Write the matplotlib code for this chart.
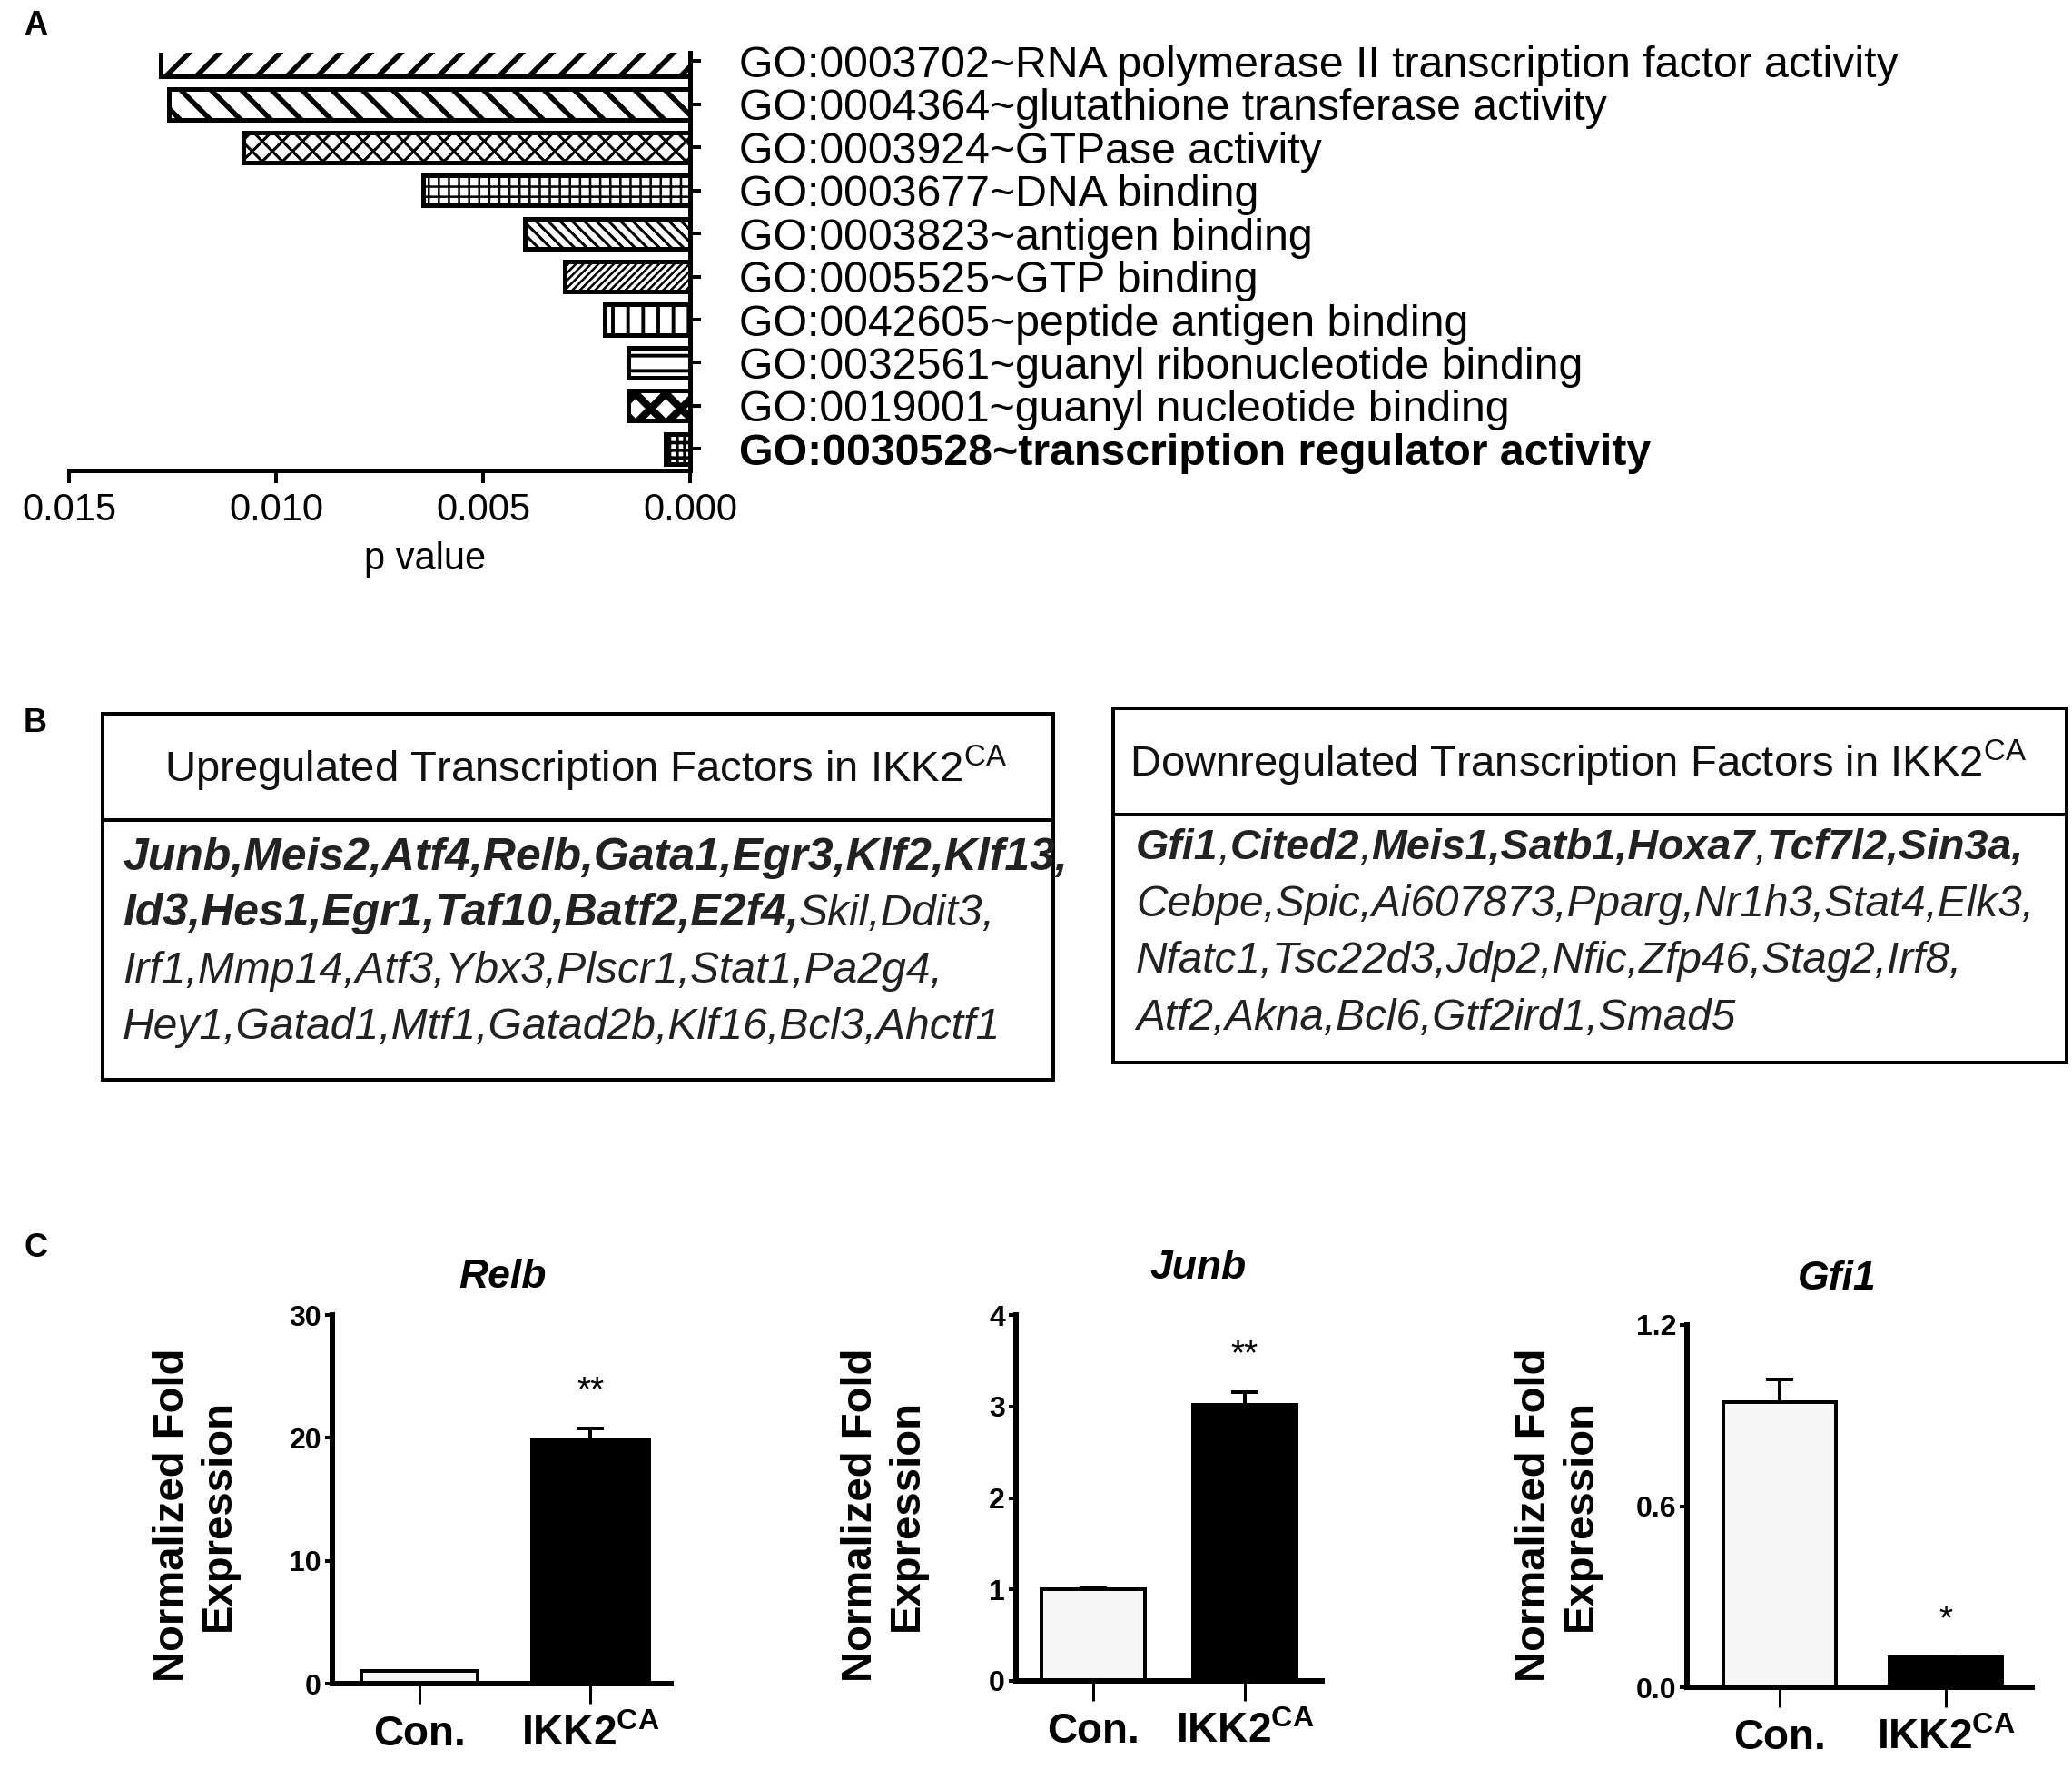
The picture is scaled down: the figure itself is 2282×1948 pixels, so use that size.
import matplotlib
matplotlib.use("Agg")
import matplotlib.pyplot as plt
from matplotlib.patches import Rectangle
from matplotlib.lines import Line2D

plt.rcParams['font.family'] = ['Liberation Sans', 'DejaVu Sans']
plt.rcParams['mathtext.fontset'] = 'custom'
plt.rcParams['mathtext.rm'] = 'Liberation Sans'
plt.rcParams['mathtext.bf'] = 'Liberation Sans:bold'
plt.rcParams['hatch.color'] = 'black'
plt.rcParams['hatch.linewidth'] = 1.2

NARROW = ['Liberation Sans Narrow', 'Liberation Sans', 'DejaVu Sans']

# ---------------- data ----------------
go_terms = [
    "GO:0003702~RNA polymerase II transcription factor activity",
    "GO:0004364~glutathione transferase activity",
    "GO:0003924~GTPase activity",
    "GO:0003677~DNA binding",
    "GO:0003823~antigen binding",
    "GO:0005525~GTP binding",
    "GO:0042605~peptide antigen binding",
    "GO:0032561~guanyl ribonucleotide binding",
    "GO:0019001~guanyl nucleotide binding",
    "GO:0030528~transcription regulator activity",
]
go_pvalues = [0.01278, 0.01258, 0.01078, 0.00645, 0.00399,
              0.00302, 0.00206, 0.00149, 0.00149, 0.00060]
p_ticks = [0.015, 0.010, 0.005, 0.000]

up_title = r"Upregulated Transcription Factors in IKK2$^{\mathrm{CA}}$"
up_lines = [
    [("Junb,Meis2,Atf4,Relb,Gata1,Egr3,Klf2,Klf13,", True)],
    [("Id3,Hes1,Egr1,Taf10,Batf2,E2f4,", True), ("Skil,Ddit3,", False)],
    [("Irf1,Mmp14,Atf3,Ybx3,Plscr1,Stat1,Pa2g4,", False)],
    [("Hey1,Gatad1,Mtf1,Gatad2b,Klf16,Bcl3,Ahctf1", False)],
]
down_title = r"Downregulated Transcription Factors in IKK2$^{\mathrm{CA}}$"
down_lines = [
    [("Gfi1", True), (",", False), ("Cited2", True), (",", False),
     ("Meis1,Satb1,Hoxa7", True), (",", False), ("Tcf7l2,Sin3a,", True)],
    [("Cebpe,Spic,Ai607873,Pparg,Nr1h3,Stat4,Elk3,", False)],
    [("Nfatc1,Tsc22d3,Jdp2,Nfic,Zfp46,Stag2,Irf8,", False)],
    [("Atf2,Akna,Bcl6,Gtf2ird1,Smad5", False)],
]

groups = ["Con.", r"IKK2$^{\mathbf{CA}}$"]
relb_mean = [1.0, 19.8]
relb_err = [0.05, 1.0]
junb_mean = [1.0, 3.02]
junb_err = [0.01, 0.14]
gfi1_mean = [0.945, 0.098]
gfi1_err = [0.075, 0.004]

# ---------------- figure ----------------
W, H = 2282, 1948
DPI = 200
fig = plt.figure(figsize=(W / DPI, H / DPI), dpi=DPI)


def pt(px):
    return px * 72.0 / DPI


def rect(left, top, right, bottom):
    return [left / W, 1 - bottom / H, (right - left) / W, (bottom - top) / H]


def fx(x):
    return x / W


def fy(y):
    return 1 - y / H


# panel letters
for letter, (x, y) in zip("ABC", [(26, 29), (26, 797), (26, 1375)]):
    fig.text(fx(x), fy(y), letter, fontsize=13, weight='bold', ha='left', va='center')

# ==========================
# PANEL A
# ==========================
ax = fig.add_axes(rect(76, 58, 760, 518))
hatches = ['//', '\\\\', 'xxx', '+++', '\\' * 5, '/' * 8, '||', '--', 'xx', '++++']
hatch_lw = [2.0, 2.0, 1.1, 0.9, 1.1, 0.9, 1.4, 1.4, 3.0, 1.3]
bars = ax.barh(range(len(go_terms)), go_pvalues, height=0.7,
               color='white', edgecolor='black', linewidth=pt(5))
for b, h, lw in zip(bars, hatches, hatch_lw):
    b.set_hatch(h)
    if hasattr(b, 'set_hatch_linewidth'):
        b.set_hatch_linewidth(lw)

ax.set_xlim(0.0150, 0)
ax.set_ylim(9.5, -0.2)
ax.set_xticks(p_ticks)
ax.set_xticklabels(["%.3f" % v for v in p_ticks], fontfamily=NARROW, fontsize=15)
ax.yaxis.tick_right()
ax.set_yticks(range(len(go_terms)))
ax.set_yticklabels(go_terms, fontsize=17.4)
ax.get_yticklabels()[-1].set_fontweight('bold')
ax.tick_params(axis='y', direction='out', length=pt(12), width=pt(4), pad=pt(42))
ax.tick_params(axis='x', direction='out', length=pt(14), width=pt(4), pad=pt(10))
for s in ['left', 'top']:
    ax.spines[s].set_visible(False)
for s in ['right', 'bottom']:
    ax.spines[s].set_linewidth(pt(5))
ax.set_xlabel("p value", fontsize=15, fontfamily=NARROW)
ax.xaxis.set_label_coords((468 - 76) / 684, -0.17)

# ==========================
# PANEL B
# ==========================
renderer = fig.canvas.get_renderer()


def gene_box(left, top, right, bottom, divider, title, title_xy, lines, x0, y_lines,
             bold_size, normal_size):
    fig.add_artist(Rectangle((fx(left), fy(bottom)), (right - left) / W, (bottom - top) / H,
                             transform=fig.transFigure, fill=False, lw=pt(4), ec='black'))
    fig.add_artist(Line2D([fx(left), fx(right)], [fy(divider)] * 2,
                          transform=fig.transFigure, lw=pt(4), color='black'))
    fig.text(fx(title_xy[0]), fy(title_xy[1]), title, fontsize=17, ha='center', va='center',
             color='#111111')
    for segs, yc in zip(lines, y_lines):
        x = x0
        for txt, bold in segs:
            t = fig.text(fx(x), fy(yc + 10), txt, style='italic',
                         fontsize=bold_size if bold else normal_size,
                         weight='bold' if bold else 'normal', ha='left', va='baseline',
                         color='#222222')
            x += t.get_window_extent(renderer).width


gene_box(113, 786, 1160, 1189, 903, up_title, (645, 846), up_lines, 135,
         [948, 1009, 1072, 1134], 18.0, 17.3)
gene_box(1226, 780, 2276, 1170, 897, down_title, (1738, 840), down_lines, 1251,
         [936, 999, 1061, 1124], 16.8, 17.2)

# ==========================
# PANEL C
# ==========================


def expression_panel(box, xlim, title, title_xy, means, errs, ytop, yticks, fmt, star, ylab_x):
    ax = fig.add_axes(rect(*box))
    x = [0, 1]
    ax.bar(x, means, width=0.68, color=['#f7f7f7', 'black'], edgecolor='black',
           linewidth=pt(4), zorder=2)
    ax.errorbar(x, means, yerr=[[0, 0], errs], fmt='none', ecolor='black',
                elinewidth=pt(4), capsize=pt(15), capthick=pt(4), zorder=3)
    ax.text(1, means[1] + errs[1] + 0.1 * ytop, star, ha='center', va='center',
            fontsize=14, fontfamily=NARROW)
    ax.set_xlim(*xlim)
    ax.set_ylim(0, ytop)
    ax.set_xticks(x)
    ax.set_xticklabels(groups, fontsize=16.5, weight='bold', fontfamily=NARROW)
    ax.set_yticks(yticks)
    ax.set_yticklabels([fmt % v for v in yticks], fontsize=11.5, weight='bold',
                       fontfamily=NARROW)
    ax.tick_params(axis='x', direction='out', length=pt(22), width=pt(3), pad=pt(12))
    ax.tick_params(axis='y', direction='out', length=pt(8), width=pt(4), pad=pt(4))
    for s in ['top', 'right']:
        ax.spines[s].set_visible(False)
    for s in ['left', 'bottom']:
        ax.spines[s].set_linewidth(pt(6))
    fig.text(fx(title_xy[0]), fy(title_xy[1]), title, fontsize=16, style='italic',
             weight='bold', ha='center', va='center')
    fig.text(fx(ylab_x), fy(1668), "Normalized Fold\nExpression", rotation=90,
             fontsize=17, weight='bold', ha='center', va='center', multialignment='center')


expression_panel((366, 1448, 739, 1854), (-0.51, 1.47), "Relb", (553, 1407),
                 relb_mean, relb_err, 30, [0, 10, 20, 30], "%d", "**", 215)
expression_panel((1119, 1448, 1456, 1851), (-0.51, 1.51), "Junb", (1320, 1397),
                 junb_mean, junb_err, 4, [0, 1, 2, 3, 4], "%d", "**", 973)
expression_panel((1858, 1459, 2238, 1858), (-0.56, 1.52), "Gfi1", (2023, 1409),
                 gfi1_mean, gfi1_err, 1.2, [0.0, 0.6, 1.2], "%.1f", "*", 1715)

fig.savefig("out.png", dpi=DPI, facecolor='white')
